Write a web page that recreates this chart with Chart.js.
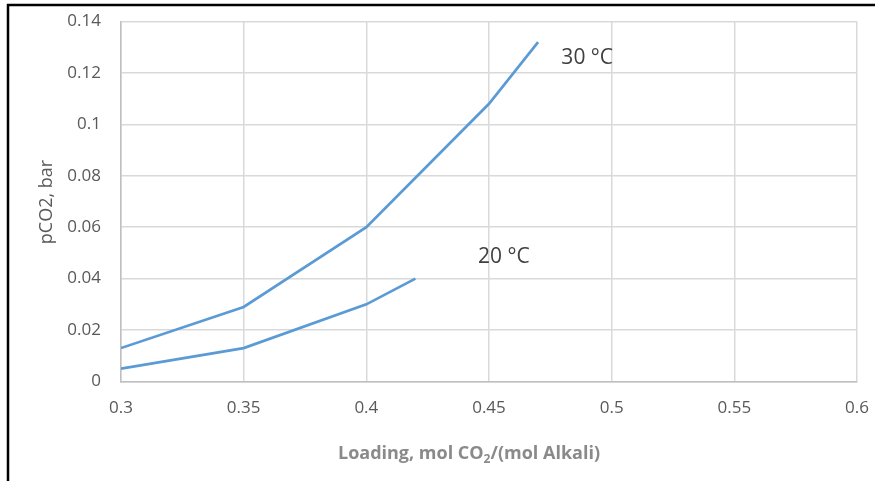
<!DOCTYPE html>
<html>
<head>
<meta charset="utf-8">
<script src="https://cdn.jsdelivr.net/npm/chart.js@4/dist/chart.umd.min.js"></script>
<style>
  html, body { margin: 0; padding: 0; background: #ffffff; }
  #wrap { width: 875px; height: 481px; position: relative; }
  canvas { display: block; }
</style>
</head>
<body>
<div id="wrap"><canvas id="c" width="875" height="481"></canvas></div>
<script>
// ---- data ----
const loading30 = [0.30, 0.35, 0.40, 0.45, 0.47];
const pco2_30   = [0.013, 0.029, 0.060, 0.108, 0.132];
const loading20 = [0.30, 0.35, 0.40, 0.42];
const pco2_20   = [0.005, 0.013, 0.030, 0.040];
const xTickValues = [0.3, 0.35, 0.4, 0.45, 0.5, 0.55, 0.6];
const yTickValues = [0, 0.02, 0.04, 0.06, 0.08, 0.1, 0.12, 0.14];
const seriesNames = ['30 °C', '20 °C'];
const seriesLabelAt = [[0.4795, 0.1235], [0.4455, 0.046]];
const xTitle = ['Loading, mol CO', '2', '/(mol Alkali)'];
const yTitle = 'pCO2, bar';

const LINE = '#5b9bd5';
const GRID = '#d9d9d9';
const TICK = '#595959';

const toPts = (xs, ys) => xs.map((x, i) => ({ x: x, y: ys[i] }));

const decor = {
  id: 'decor',
  beforeDraw(chart) {
    const ctx = chart.ctx;
    ctx.save();
    ctx.fillStyle = '#ffffff';
    ctx.fillRect(0, 0, chart.width, chart.height);
    ctx.restore();
  },
  afterDraw(chart) {
    const ctx = chart.ctx;
    const xs = chart.scales.x, ys = chart.scales.y;
    ctx.save();
    // outer frame (left and top)
    ctx.strokeStyle = '#000000';
    ctx.lineWidth = 2.5;
    ctx.beginPath();
    ctx.moveTo(8, 481);
    ctx.lineTo(8, 5);
    ctx.lineTo(875, 5);
    ctx.stroke();

    // series labels
    ctx.fillStyle = '#404040';
    ctx.font = '21px "Open Sans"';
    ctx.textBaseline = 'alphabetic';
    ctx.textAlign = 'left';
    seriesNames.forEach((n, i) => {
      ctx.fillText(n, xs.getPixelForValue(seriesLabelAt[i][0]), ys.getPixelForValue(seriesLabelAt[i][1]));
    });

    // x title with subscript
    ctx.fillStyle = '#8a8a8a';
    const big = 'bold 18px "Open Sans"', small = 'bold 12px "Open Sans"';
    ctx.font = big; const w0 = ctx.measureText(xTitle[0]).width;
    const w2 = ctx.measureText(xTitle[2]).width;
    ctx.font = small; const w1 = ctx.measureText(xTitle[1]).width;
    const total = w0 + w1 + w2;
    let x = (335 + 603) / 2 - total / 2;
    const base = 459;
    ctx.font = big; ctx.fillText(xTitle[0], x, base); x += w0;
    ctx.font = small; ctx.fillText(xTitle[1], x, base + 4); x += w1;
    ctx.font = big; ctx.fillText(xTitle[2], x, base);

    // y title rotated
    ctx.translate(47, 202);
    ctx.rotate(-Math.PI / 2);
    ctx.fillStyle = TICK;
    ctx.font = '18px "Open Sans"';
    ctx.textAlign = 'center';
    ctx.textBaseline = 'middle';
    ctx.fillText(yTitle, 0, 0);
    ctx.restore();
  }
};

new Chart(document.getElementById('c'), {
  type: 'scatter',
  data: {
    datasets: [
      { label: seriesNames[0], data: toPts(loading30, pco2_30), showLine: true, borderColor: LINE, borderWidth: 2.7, pointRadius: 0, fill: false, tension: 0 },
      { label: seriesNames[1], data: toPts(loading20, pco2_20), showLine: true, borderColor: LINE, borderWidth: 2.7, pointRadius: 0, fill: false, tension: 0 }
    ]
  },
  options: {
    responsive: false,
    animation: false,
    layout: { padding: { left: 0, right: 18, top: 21.5, bottom: 0 } },
    plugins: { legend: { display: false }, tooltip: { enabled: false } },
    scales: {
      x: {
        type: 'linear', min: 0.3, max: 0.6,
        afterBuildTicks: s => { s.ticks = xTickValues.map(v => ({ value: v })); },
        afterFit: s => { s.height = 99.5; s.paddingLeft = 0; s.paddingRight = 0; },
        grid: { color: GRID, lineWidth: 1.5, drawTicks: false },
        border: { color: '#bfbfbf', width: 1.5 },
        ticks: { color: TICK, font: { family: 'Open Sans', size: 17 }, padding: 16, maxRotation: 0,
                 callback: v => String(+v.toFixed(2)) }
      },
      y: {
        type: 'linear', min: 0, max: 0.14,
        afterBuildTicks: s => { s.ticks = yTickValues.map(v => ({ value: v })); },
        afterFit: s => { s.width = 121; s.paddingTop = 0; s.paddingBottom = 0; },
        grid: { color: GRID, lineWidth: 1.5, drawTicks: false },
        border: { color: '#bfbfbf', width: 1.5 },
        ticks: { color: TICK, font: { family: 'Open Sans', size: 17 }, padding: 20,
                 callback: v => String(+v.toFixed(2)) }
      }
    }
  },
  plugins: [decor]
});
</script>
</body>
</html>
